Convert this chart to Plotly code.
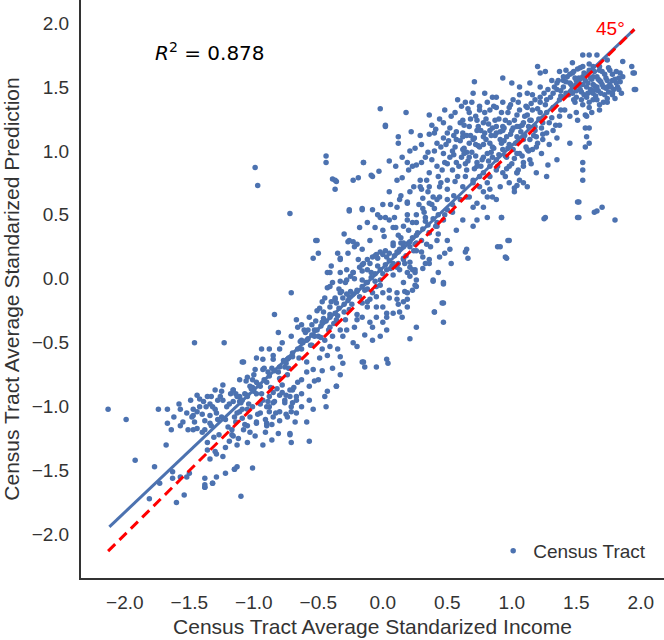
import plotly.graph_objects as go

# ---- data (x = standardized income, y = standardized prediction) ----
pts_lower_left = [
    (-2.13, -1.02), (-1.99, -1.10), (-1.92, -1.42), (-1.77, -1.47), (-1.74, -1.02), (-1.67, -1.02),
    (-1.57, -1.02), (-1.67, -1.13), (-1.64, -1.18), (-1.57, -1.15), (-1.68, -1.30), (-1.73, -1.60),
    (-1.81, -1.72), (-1.60, -1.75), (-1.54, -1.69), (-1.63, -1.51), (-1.63, -1.56), (-1.57, -1.55),
    (-1.52, -1.55), (-1.50, -1.52), (-1.51, -1.18), (-1.47, -1.18), (-1.44, -1.17), (-1.47, -1.07),
    (-1.47, -1.02), (-1.44, -1.04), (-1.44, -0.91), (-1.39, -0.96), (-1.37, -1.00), (-1.40, -1.06),
    (-1.34, -1.07), (-1.38, -1.11), (-1.34, -1.13), (-1.36, -1.28), (-1.36, -1.34), (-1.34, -1.41),
    (-1.38, -1.56), (-1.38, -1.61), (-1.38, -1.63), (-1.32, -1.60), (-1.29, -1.55), (-1.29, -1.37),
    (-1.30, -1.35), (-1.24, -1.39), (-1.22, -1.32), (-1.22, -1.52), (-1.19, -1.27), (-1.17, -1.22),
    (-1.16, -1.23), (-1.15, -1.49), (-1.13, -1.47), (-1.13, -1.30), (-1.10, -1.70), (-1.05, -1.28),
    (-1.01, -1.48), (-0.99, -1.23), (-0.93, -1.30), (-0.86, -1.26), (-0.81, -1.21), (-0.72, -1.22),
    (-0.71, -1.28), (-1.05, -1.15), (-0.98, -1.13), (-0.90, -1.13), (-0.85, -1.08), (-0.80, -1.11),
    (-0.75, -1.06), (-0.71, -1.04), (-0.70, -0.97), (-0.75, -0.91), (-0.80, -0.91), (-0.85, -0.97),
    (-0.90, -1.00), (-0.95, -1.05), (-1.01, -1.00), (-1.03, -1.08), (-1.09, -1.09), (-1.11, -1.04),
    (-1.15, -1.08), (-1.16, -0.96), (-1.21, -1.00), (-1.24, -0.95), (-1.28, -0.95), (-1.29, -1.05),
    (-1.25, -1.08), (-1.32, -1.00), (-1.33, -0.92), (-1.30, -0.87), (-1.24, -0.83), (-1.16, -0.87),
    (-1.11, -0.92), (-1.05, -0.91), (-1.01, -0.85), (-0.98, -0.81), (-0.93, -0.95), (-0.88, -1.04),
    (-0.85, -0.89), (-0.78, -0.83), (-0.72, -0.87), (-0.67, -0.92), (-0.66, -0.81),
    (-1.46, -0.50), (-1.23, -0.50), (-1.08, -0.65), (-1.38, -1.63), (-1.32, -1.60), (-1.15, -1.49),
    (-1.62, -1.08), (-1.58, -0.98), (-1.55, -1.12), (-1.52, -1.05), (-1.49, -0.95), (-1.46, -1.12),
    (-1.42, -1.00), (-1.40, -1.20), (-1.36, -0.92), (-1.33, -1.15), (-1.30, -1.02), (-1.27, -1.22),
    (-1.25, -0.88), (-1.22, -1.10), (-1.19, -0.98), (-1.17, -1.18), (-1.14, -0.90), (-1.12, -1.25),
    (-1.09, -1.02), (-1.06, -0.80), (-1.03, -1.20), (-1.00, -0.75),
    (-1.48, -1.08), (-1.42, -0.94), (-1.38, -1.18), (-1.34, -0.98), (-1.31, -1.24), (-1.28, -1.10),
    (-1.26, -0.92), (-1.20, -1.16), (-1.18, -0.90), (-1.14, -1.12), (-1.11, -0.96), (-1.08, -1.18),
    (-1.04, -0.98), (-1.02, -0.86), (-0.97, -1.06), (-0.94, -0.90), (-0.91, -1.20), (-0.89, -0.96),
    (-0.86, -1.14), (-0.82, -0.86),
]

pts_lower_mid = [
    (-0.71, -0.11), (-0.84, -0.28), (-0.81, -0.42), (-0.67, -0.32), (-0.66, -0.38), (-0.63, -0.36),
    (-0.57, -0.30), (-0.55, -0.36), (-0.49, -0.23), (-0.47, -0.18), (-0.43, -0.07), (-0.41, -0.06),
    (-0.16, -0.65), (-0.14, -0.69), (-0.05, -0.69), (0.03, -0.63), (-0.20, -0.53), (-0.23, -0.50),
    (-0.33, -0.61), (-0.31, -0.66), (-0.36, -0.84), (-0.43, -0.88), (-0.45, -0.92), (-0.50, -0.79),
    (-0.54, -0.71), (-0.59, -0.73), (-0.63, -0.79), (-0.57, -0.84), (-0.54, -1.02), (-0.59, -1.12),
    (-0.68, -1.12), (-0.74, -1.08), (-0.80, -1.04), (-0.88, -1.00), (-0.91, -1.10), (-0.98, -1.12),
    (-1.07, -1.14), (-1.05, -1.02), (-1.09, -0.95), (-1.13, -0.92), (-1.05, -0.77), (-1.01, -0.79),
    (-0.95, -0.84), (-0.90, -0.81), (-0.89, -0.73), (-0.93, -0.63), (-0.94, -0.55), (-0.88, -0.55),
    (-0.80, -0.55), (-0.85, -0.63), (-0.81, -0.73), (-1.09, -0.65), (-0.74, -0.75), (-0.70, -0.87),
    (-0.72, -0.92), (-0.78, -0.89), (-0.67, -0.95), (-0.63, -1.00), (-0.71, -1.00), (-0.76, -0.97),
    (-0.84, -0.96), (-0.88, -0.92), (-0.63, -0.48), (-0.59, -0.48), (-0.50, -0.45), (-0.47, -0.55),
    (-0.41, -0.53), (-0.39, -0.45), (-0.33, -0.40), (-0.36, -0.34), (-0.29, -0.32), (-0.26, -0.24),
    (-0.20, -0.32), (-0.22, -0.38), (-0.16, -0.30), (-0.12, -0.22), (-0.05, -0.22), (0.00, -0.22),
    (0.03, -0.27), (0.08, -0.27), (0.13, -0.26), (0.19, -0.22), (-0.63, -0.55), (-0.70, -0.61),
    (-0.74, -0.63), (-0.76, -0.69), (-0.93, -0.71), (-0.99, -0.71), (-1.03, -0.84), (-1.11, -0.79),
    (-1.16, -0.87), (-1.13, -1.05), (0.26, -0.38), (0.21, -0.47), (0.03, -0.40), (-0.02, -0.45),
    (-0.08, -0.48), (-0.14, -0.44), (-0.10, -0.34), (-0.05, -0.30), (0.00, -0.34),
    (-0.72, -1.21), (-0.57, -1.27), (-0.44, -1.00), (-0.36, -0.84), (-0.15, -0.65), (0.04, -0.66),
    (0.47, -0.34), (0.40, -0.26), (0.47, -0.19), (0.15, -0.30), (0.19, -0.16), (0.17, -0.10),
    (-0.98, -0.62), (-0.95, -0.98), (-0.92, -0.70), (-0.90, -1.15), (-0.87, -0.85), (-0.85, -0.60),
    (-0.83, -1.05), (-0.80, -0.78), (-0.78, -0.50), (-0.76, -0.95), (-0.73, -0.70), (-0.71, -0.45),
    (-0.69, -0.85), (-0.67, -1.05), (-0.65, -0.62), (-0.63, -0.90), (-0.61, -0.40), (-0.59, -0.65),
    (-0.57, -0.95), (-0.55, -0.52), (-0.53, -0.80), (-0.51, -0.25), (-0.49, -0.62), (-0.47, -0.72),
    (-0.45, -0.48), (-0.43, -0.60), (-0.41, -0.38), (-0.39, -0.70), (-0.37, -0.15), (-0.35, -0.55),
    (-0.33, -0.75), (-0.31, -0.45),
]

pts_band = [
    (-1.10, -0.97), (-1.05, -0.92), (-1.00, -0.88), (-0.96, -0.83), (-0.92, -0.79), (-0.88, -0.76),
    (-0.84, -0.72), (-0.80, -0.69), (-0.77, -0.64), (-0.73, -0.62), (-0.70, -0.58), (-0.66, -0.55),
    (-0.62, -0.50), (-0.58, -0.47), (-0.55, -0.44), (-0.51, -0.40), (-0.48, -0.37), (-0.44, -0.33),
    (-0.41, -0.30), (-0.37, -0.27), (-0.34, -0.23), (-0.30, -0.20), (-0.27, -0.17), (-0.23, -0.12),
    (-0.20, -0.10), (-0.16, -0.06), (-0.13, -0.03), (-0.09, 0.01), (-0.06, 0.04), (-0.02, 0.07),
    (0.02, 0.11), (0.05, 0.14), (0.09, 0.18), (0.12, 0.21), (0.16, 0.25), (0.20, 0.28), (0.23, 0.32),
    (0.27, 0.36), (0.31, 0.39), (0.35, 0.42), (0.39, 0.47), (0.43, 0.50),
    (-1.07, -0.90), (-0.98, -0.90), (-0.86, -0.70), (-0.75, -0.66), (-0.64, -0.49), (-0.53, -0.45),
    (-0.46, -0.31), (-0.35, -0.29), (-0.25, -0.10), (-0.14, -0.09), (-0.04, 0.10), (0.07, 0.10),
    (0.14, 0.28), (0.25, 0.27), (0.33, 0.48), (0.41, 0.41),
    (-0.60, -0.42), (-0.56, -0.52), (-0.52, -0.33), (-0.48, -0.46), (-0.46, -0.26), (-0.42, -0.40),
    (-0.40, -0.18), (-0.36, -0.32), (-0.34, -0.08), (-0.30, -0.26), (-0.28, -0.12), (-0.24, -0.20),
    (-0.22, 0.00), (-0.18, -0.14), (-0.16, 0.06), (-0.12, -0.08), (-0.10, 0.12), (-0.06, -0.02),
    (-0.04, 0.16), (0.00, 0.04), (0.02, 0.22), (0.06, 0.08), (0.08, 0.26), (0.12, 0.12), (0.14, 0.32),
    (0.18, 0.18), (0.20, 0.38), (0.24, 0.22), (0.26, 0.44), (0.30, 0.30), (0.32, 0.52), (0.36, 0.36),
    (0.38, 0.58), (0.42, 0.44), (0.44, 0.64), (0.48, 0.50), (0.50, 0.70), (0.54, 0.58), (0.56, 0.76),
    (0.60, 0.62),
]

pts_center = [
    (-0.51, 0.30), (-0.27, 0.29), (-0.23, 0.29), (-0.50, 0.20), (-0.54, 0.16), (-0.43, 0.05),
    (-0.33, -0.02), (-0.29, -0.03), (-0.27, 0.20), (-0.19, 0.15), (-0.16, 0.11), (-0.12, 0.07),
    (-0.09, 0.05), (-0.05, 0.19), (0.00, 0.19), (0.05, 0.20), (0.11, 0.21), (0.16, 0.16),
    (0.21, 0.09), (0.25, 0.07), (0.26, -0.01), (0.16, -0.03), (0.11, -0.11), (0.05, -0.15),
    (0.11, -0.16), (0.16, -0.18), (0.19, -0.11), (0.23, -0.09), (0.26, -0.06), (0.05, -0.09),
    (0.00, -0.11), (-0.05, -0.06), (-0.05, -0.14), (-0.10, -0.16), (-0.16, -0.19), (-0.26, -0.14),
    (-0.31, -0.15), (-0.36, -0.19), (-0.41, -0.22), (-0.41, -0.28), (-0.47, -0.34), (-0.53, -0.40),
    (-0.58, -0.40), (-0.41, 0.05), (-0.33, 0.05), (-0.28, 0.07), (-0.23, 0.05), (-0.33, 0.15),
    (-0.39, -0.03), (-0.12, -0.03), (-0.08, -0.11), (-0.16, -0.01), (-0.20, -0.09), (-0.02, -0.01),
    (0.03, 0.07), (0.08, 0.12), (0.13, 0.07), (0.19, 0.05), (0.21, 0.25), (0.16, 0.28), (0.26, 0.28),
    (0.30, 0.21), (-0.02, 0.48), (0.02, 0.48), (0.09, 0.48), (-0.06, 0.40), (0.00, 0.38), (0.08, 0.40),
    (0.12, 0.34), (0.16, 0.41), (0.19, 0.46), (0.26, 0.50), (0.31, 0.55), (0.36, 0.59), (0.31, 0.63),
    (0.39, 0.64), (0.34, 0.27), (0.42, 0.30), (0.50, 0.30), (0.52, 0.23), (0.64, 0.21), (0.66, 0.16),
    (0.89, 0.25), (0.98, 0.30), (0.95, 0.17), (0.44, 0.17), (0.36, 0.15), (0.31, 0.17), (0.39, -0.01),
    (0.47, -0.03), (0.25, 0.05), (0.21, 0.13), (0.16, 0.15), (0.11, 0.09), (0.03, 0.17), (-0.02, 0.21),
    (-0.08, 0.17), (-0.12, 0.15), (-0.18, 0.09), (-0.23, 0.05), (-0.28, -0.01), (-0.33, -0.11),
    (-0.37, -0.16), (-0.26, 0.30), (-0.33, 0.16), (-0.20, 0.27), (-0.16, 0.23), (0.13, 0.23),
    (0.08, 0.28), (0.21, 0.29), (0.26, 0.34), (0.23, 0.44), (0.05, 0.46), (-0.12, 0.44),
    (0.53, 0.12), (0.39, -0.02), (0.47, -0.04), (0.43, 0.05), (0.65, 0.23), (0.36, 0.12), (0.33, 0.12),
    (0.23, 0.07), (0.25, -0.05), (0.96, 0.16), (0.91, 0.25), (0.97, 0.30),
    (-0.45, -0.15), (-0.40, 0.10), (-0.38, -0.35), (-0.35, 0.20), (-0.32, -0.10), (-0.30, 0.35),
    (-0.28, -0.40), (-0.25, 0.02), (-0.22, 0.25), (-0.20, -0.28), (-0.18, 0.40), (-0.15, 0.12),
    (-0.12, -0.18), (-0.10, 0.30), (-0.08, -0.38), (-0.06, 0.18), (-0.04, 0.50), (-0.02, -0.05),
    (0.01, 0.33), (0.03, -0.30), (0.06, 0.58), (0.08, 0.03), (0.10, 0.40), (0.12, -0.20), (0.14, 0.65),
    (0.17, 0.12), (0.19, 0.50), (0.21, 0.02), (0.24, 0.72), (0.26, 0.22), (0.28, 0.58), (0.31, 0.08),
    (0.33, 0.45), (0.35, 0.68), (0.37, 0.25), (0.40, 0.55), (0.43, 0.35), (0.45, 0.75), (0.48, 0.20),
    (0.50, 0.62),
]

pts_upper_mid = [
    (0.02, 1.20), (0.12, 1.11), (0.12, 1.06), (0.29, 1.12), (0.21, 1.00), (0.36, 1.13), (0.40, 1.14),
    (-0.15, 0.91), (-0.39, 0.78), (-0.36, 0.76), (-0.37, 0.70), (-0.23, 0.77), (-0.19, 0.79),
    (-0.09, 0.81), (-0.03, 0.84), (-0.08, 0.80), (0.05, 0.68), (0.11, 0.77), (0.15, 0.79), (0.19, 0.91),
    (0.23, 0.88), (0.26, 0.89), (0.30, 0.91), (0.35, 0.99), (0.42, 1.06), (0.47, 1.10), (0.50, 1.14),
    (0.47, 0.98), (0.48, 0.91), (0.42, 0.88), (0.36, 0.83), (0.34, 0.77), (0.21, 0.68), (0.19, 0.60),
    (0.13, 0.62), (0.11, 0.56), (0.00, 0.58), (-0.08, 0.54), (-0.16, 0.55), (-0.26, 0.54), (0.19, 0.59),
    (0.29, 0.72), (0.36, 0.72), (0.29, 0.77), (0.52, 0.95), (0.65, 0.85), (0.73, 0.91), (0.78, 0.95),
    (0.85, 0.95), (0.93, 1.01), (1.09, 0.75), (0.54, 0.85), (0.57, 0.91), (0.61, 0.95), (0.65, 0.99),
    (0.67, 1.06), (0.57, 1.09), (0.56, 1.03), (0.62, 1.14), (0.73, 1.16), (0.78, 1.11), (0.83, 1.06),
    (0.88, 1.14), (0.93, 1.19), (1.00, 1.16), (1.06, 1.19), (1.09, 1.09), (1.04, 0.98), (0.98, 0.88),
    (1.04, 0.83), (1.09, 0.88), (0.88, 0.85), (0.83, 0.80), (0.81, 0.75), (0.75, 0.80), (0.70, 0.75),
    (0.67, 0.64), (0.73, 0.59), (0.81, 0.64), (0.88, 0.62), (0.92, 0.48), (1.02, 0.68), (1.04, 0.73),
    (0.73, 0.46), (0.70, 0.41), (0.62, 0.46), (0.57, 0.38), (0.54, 0.52), (0.50, 0.54), (0.47, 0.46),
    (0.42, 0.41), (0.36, 0.36), (0.44, 0.72), (0.50, 0.77),
    (0.30, 1.05), (0.33, 0.95), (0.38, 1.20), (0.40, 1.00), (0.44, 1.25), (0.46, 0.85), (0.49, 1.05),
    (0.52, 1.18), (0.55, 0.97), (0.56, 1.30), (0.58, 0.80), (0.60, 1.08), (0.63, 1.20), (0.64, 0.90),
    (0.66, 1.33), (0.68, 1.12), (0.69, 0.99), (0.71, 0.86), (0.72, 1.27), (0.74, 1.04), (0.76, 1.16),
    (0.77, 0.93), (0.79, 1.30), (0.80, 1.09), (0.82, 1.21), (0.84, 0.99), (0.86, 1.35), (0.87, 1.12),
    (0.89, 0.88), (0.90, 1.25), (0.92, 1.06), (0.94, 1.18), (0.95, 0.96), (0.97, 1.30), (0.99, 1.13),
    (1.00, 0.90), (1.02, 1.24), (1.03, 1.06), (1.05, 1.38), (1.07, 1.15), (1.08, 0.96), (1.10, 1.27),
    (1.11, 1.03), (1.13, 1.19), (1.15, 0.90), (1.17, 1.12), (1.19, 1.03), (1.21, 1.25), (1.24, 1.13),
    (1.26, 1.36), (1.29, 1.05), (1.31, 1.26), (1.34, 1.20), (1.38, 1.32), (0.58, 1.40), (0.70, 1.45),
    (0.48, 1.32), (0.36, 1.28), (0.25, 1.02), (0.20, 0.85), (0.15, 0.95), (0.10, 0.88), (0.05, 0.92),
    (0.22, 1.15), (0.30, 0.70), (0.42, 0.62), (0.55, 0.65), (0.62, 0.72), (0.78, 0.68), (0.95, 0.80),
    (1.05, 0.85),
    (0.38, 0.93), (0.41, 1.17), (0.43, 0.80), (0.45, 1.03), (0.47, 1.22), (0.50, 0.90), (0.51, 1.08),
    (0.53, 1.27), (0.54, 1.00), (0.57, 1.15), (0.59, 0.88), (0.60, 1.22), (0.61, 1.35), (0.63, 1.02),
    (0.65, 1.12), (0.66, 0.92), (0.68, 1.25), (0.69, 1.38), (0.71, 1.10), (0.72, 0.96), (0.74, 1.19),
    (0.75, 1.35), (0.76, 0.88), (0.78, 1.05), (0.79, 1.14), (0.80, 1.25), (0.82, 0.92), (0.83, 1.32),
    (0.84, 1.12), (0.86, 1.02), (0.87, 1.24), (0.88, 1.42), (0.90, 0.97), (0.91, 1.15), (0.92, 1.30),
    (0.94, 1.08), (0.95, 1.24), (0.96, 0.86), (0.98, 1.05), (0.99, 1.36), (1.01, 1.18), (1.02, 0.94),
    (1.04, 1.28), (1.05, 1.07), (1.06, 1.44), (1.08, 1.20), (1.10, 1.12), (1.11, 1.35), (1.13, 1.00),
    (1.15, 1.24), (1.16, 1.44), (1.18, 1.16), (1.20, 1.06), (1.22, 1.38), (1.24, 1.22), (0.55, 1.12),
    (0.63, 0.98), (0.72, 1.05), (0.85, 1.18), (0.97, 1.02),
]

pts_upper_right = [
    (0.71, 1.54), (0.93, 1.57), (1.00, 1.53), (1.20, 1.66), (1.22, 1.61), (1.26, 1.62), (1.37, 1.62),
    (1.47, 1.69), (1.55, 1.75), (1.60, 1.75), (1.66, 1.75), (1.74, 1.71), (1.86, 1.70), (1.93, 1.66),
    (1.94, 1.61), (1.95, 1.48), (1.84, 1.61), (1.81, 1.53), (1.78, 1.44), (1.71, 1.38), (1.68, 1.32),
    (1.74, 1.41), (1.63, 1.45), (1.58, 1.50), (1.53, 1.48), (1.50, 1.55), (1.55, 1.58), (1.63, 1.58),
    (1.68, 1.55), (1.74, 1.50), (1.78, 1.55), (1.76, 1.63), (1.68, 1.63), (1.60, 1.63), (1.55, 1.66),
    (1.47, 1.61), (1.45, 1.53), (1.47, 1.45), (1.49, 1.38), (1.50, 1.30), (1.51, 1.24), (1.57, 1.18),
    (1.60, 1.18), (1.58, 1.11), (1.57, 1.03), (1.55, 0.91), (1.55, 0.85), (1.55, 0.77), (1.51, 0.60),
    (1.51, 0.48), (1.64, 0.52), (1.70, 0.56), (1.80, 0.46), (1.60, 1.06), (1.45, 1.06), (1.35, 1.10),
    (1.32, 1.16), (1.37, 1.20), (1.29, 1.22), (1.23, 1.18), (1.23, 0.98), (1.35, 0.93), (1.28, 0.89),
    (1.27, 0.80), (1.19, 0.83), (1.12, 0.72), (1.02, 0.71), (1.06, 0.77), (1.26, 0.48), (0.92, 0.48),
    (0.81, 0.48), (0.78, 0.56), (0.85, 0.64), (0.70, 0.56), (0.65, 0.64), (0.64, 0.80), (0.70, 0.77),
    (0.75, 0.72), (0.83, 0.70), (0.91, 0.72), (0.93, 0.83), (0.98, 0.75), (1.04, 0.83), (1.09, 0.91),
    (1.14, 0.93), (1.16, 1.01), (1.12, 1.01), (1.06, 0.98), (1.01, 1.01), (0.96, 0.95), (0.88, 0.93),
    (0.83, 0.88), (0.78, 0.83), (0.73, 0.88), (0.67, 0.95), (0.62, 1.01), (0.62, 1.11), (0.70, 1.09),
    (0.75, 1.03), (0.81, 0.98), (0.85, 1.03), (0.91, 1.09), (0.96, 1.11), (1.04, 1.11), (1.09, 1.11),
    (1.14, 1.09), (1.19, 1.11), (1.24, 1.09), (1.27, 1.14), (1.18, 1.19), (1.14, 1.24), (1.09, 1.22),
    (1.04, 1.19), (0.98, 1.22), (0.93, 1.16), (0.88, 1.19), (0.83, 1.16), (0.78, 1.22), (0.73, 1.24),
    (0.67, 1.19), (0.62, 1.24), (0.64, 1.38), (0.67, 1.30), (0.75, 1.32), (0.81, 1.38), (0.79, 1.45),
    (0.85, 1.42), (0.88, 1.34), (0.93, 1.38), (0.98, 1.34), (1.01, 1.40), (1.06, 1.32), (1.12, 1.34),
    (1.16, 1.32), (1.22, 1.30), (1.27, 1.30), (1.32, 1.34), (1.37, 1.40), (1.42, 1.45), (1.32, 1.45),
    (1.27, 1.40), (1.22, 1.42), (1.12, 1.45), (1.14, 1.53), (1.06, 1.50), (1.35, 1.53), (1.40, 1.55),
    (1.42, 1.63), (1.63, 1.40), (1.66, 1.50), (1.50, 1.42), (1.60, 1.34), (1.58, 1.27), (1.45, 1.27),
    (1.41, 1.32), (1.37, 1.27),
    (1.40, 1.50), (1.43, 1.58), (1.46, 1.52), (1.48, 1.62), (1.50, 1.47), (1.52, 1.57), (1.53, 1.65),
    (1.55, 1.52), (1.56, 1.44), (1.58, 1.60), (1.59, 1.53), (1.61, 1.48), (1.62, 1.56), (1.63, 1.66),
    (1.64, 1.51), (1.65, 1.43), (1.66, 1.58), (1.67, 1.47), (1.69, 1.54), (1.70, 1.62), (1.71, 1.50),
    (1.72, 1.44), (1.73, 1.57), (1.75, 1.46), (1.76, 1.52), (1.78, 1.60), (1.79, 1.48), (1.80, 1.41),
    (1.82, 1.50), (1.83, 1.57), (1.85, 1.45), (1.60, 1.38), (1.55, 1.36), (1.48, 1.40), (1.44, 1.44),
    (1.38, 1.47), (1.36, 1.55), (1.33, 1.50), (1.30, 1.42), (1.28, 1.48), (1.25, 1.45), (1.22, 1.50),
    (1.18, 1.40), (1.15, 1.37), (1.12, 1.28), (1.20, 1.33), (1.68, 1.36), (1.74, 1.38), (1.62, 1.30),
    (1.57, 1.28),
    (1.42, 1.54), (1.45, 1.60), (1.47, 1.50), (1.49, 1.57), (1.51, 1.64), (1.52, 1.51), (1.54, 1.46),
    (1.56, 1.61), (1.57, 1.55), (1.59, 1.45), (1.60, 1.68), (1.61, 1.57), (1.63, 1.52), (1.64, 1.62),
    (1.65, 1.48), (1.67, 1.56), (1.68, 1.66), (1.69, 1.45), (1.70, 1.52), (1.72, 1.60), (1.73, 1.49),
    (1.74, 1.55), (1.75, 1.65), (1.77, 1.50), (1.78, 1.45), (1.80, 1.56), (1.81, 1.62), (1.83, 1.48),
    (1.84, 1.54), (1.86, 1.58), (1.58, 1.42), (1.62, 1.46), (1.66, 1.40), (1.54, 1.40), (1.50, 1.52),
    (1.46, 1.47), (1.40, 1.58), (1.38, 1.43), (1.35, 1.48), (1.31, 1.55),
]

pts_outliers = [
    (-0.99, 0.87), (-0.97, 0.73), (-0.72, 0.51), (-0.44, 0.96), (-0.44, 0.91), (-0.37, 0.77),
    (-0.15, 0.91), (-0.02, 1.33), (0.02, 1.19), (0.18, 1.30), (-0.52, 0.30), (-0.26, 0.53),
    (-0.16, 0.54), (1.25, 0.47), (1.52, 0.48), (1.52, 0.60), (1.66, 0.53), (1.96, 1.48), (1.95, 1.61),
    (0.46, -0.19), (0.40, -0.26),
]

# regression fit line and 45-degree reference line (end points)
fit_x = [-2.12, 1.95]
fit_y = [-1.94, 1.95]
diag_x = [-2.13, 1.95]
diag_y = [-2.13, 1.95]
r2_text = "0.878"
tick_vals = [-2.0, -1.5, -1.0, -0.5, 0.0, 0.5, 1.0, 1.5, 2.0]

groups = [pts_lower_left, pts_lower_mid, pts_band, pts_center, pts_upper_mid, pts_upper_right, pts_outliers]
xs = [p[0] for g in groups for p in g]
ys = [p[1] for g in groups for p in g]

BLUE = "#4C72B0"
fig = go.Figure()
fig.add_trace(go.Scatter(x=xs, y=ys, mode="markers", name="Census Tract",
                         marker=dict(size=5.5, color=BLUE, line=dict(width=0))))
fig.add_trace(go.Scatter(x=fit_x, y=fit_y, mode="lines", showlegend=False,
                         line=dict(color=BLUE, width=3)))
fig.add_trace(go.Scatter(x=diag_x, y=diag_y, mode="lines", showlegend=False,
                         line=dict(color="#FF0000", width=3, dash="10px,6px")))

fig.add_annotation(x=-1.78, y=1.77, xref="x", yref="y", xanchor="left", yanchor="middle",
                   text="<i>R</i><sup>2</sup> = " + r2_text, showarrow=False,
                   font=dict(family="DejaVu Sans", size=20, color="black"))
fig.add_annotation(x=1.89, y=1.96, xref="x", yref="y", xanchor="right", yanchor="middle",
                   text="45°", showarrow=False,
                   font=dict(family="Liberation Sans, Arial", size=19, color="#FF0000"))

axis_common = dict(range=[-2.34, 2.18], tickvals=tick_vals, tickformat=".1f",
                   showgrid=False, zeroline=False, showline=True, linecolor="#333333",
                   linewidth=2, ticks="", ticklabelstandoff=6,
                   tickfont=dict(size=19, color="#333333"),
                   title_font=dict(size=21, color="#333333"))
fig.update_layout(
    width=664, height=640,
    margin=dict(l=81, r=0, t=0, b=62),
    plot_bgcolor="white", paper_bgcolor="white",
    font=dict(family="Liberation Sans, Arial, sans-serif", color="#333333"),
    xaxis=dict(axis_common, title=dict(text="Census Tract Average Standarized Income", standoff=8)),
    yaxis=dict(axis_common, title=dict(text="Census Tract Average Standarized Prediction", standoff=10)),
    legend=dict(x=0.707, y=0.047, xanchor="left", yanchor="middle", bgcolor="rgba(0,0,0,0)",
                font=dict(size=19, color="#333333")),
    showlegend=True,
)
fig.write_html("out.html")
